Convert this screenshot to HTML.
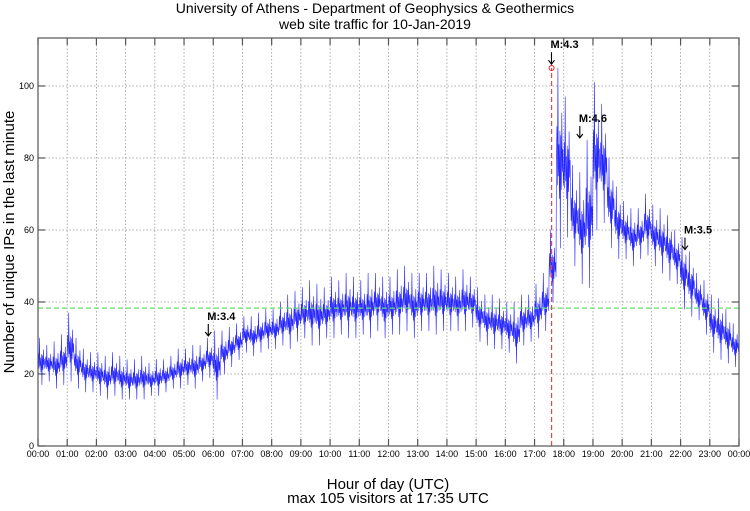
<!DOCTYPE html>
<html><head><meta charset="utf-8"><style>
html,body{margin:0;padding:0;background:#fff;width:750px;height:511px;overflow:hidden}
text{font-family:"Liberation Sans",sans-serif}
</style></head><body>
<svg id="chart" width="750" height="511" viewBox="0 0 750 511" xmlns="http://www.w3.org/2000/svg">
<text x="375" y="13" font-size="14" text-anchor="middle">University of Athens - Department of Geophysics &amp; Geothermics</text>
<text x="375" y="29" font-size="14" text-anchor="middle">web site traffic for 10-Jan-2019</text>
<text transform="translate(14,242) rotate(-90)" font-size="15" text-anchor="middle">Number of unique IPs in the last minute</text>
<text x="388" y="489" font-size="15" text-anchor="middle">Hour of day (UTC)</text>
<text x="388" y="503" font-size="15" text-anchor="middle">max 105 visitors at 17:35 UTC</text>
<g id="grid"></g>
<g id="series"></g>
<g id="overlay"></g>
<rect x="38" y="38" width="701" height="408" fill="none" stroke="#555" stroke-width="1.2"/>
</svg>
<script>
const binLow = [17,18,16,17, 18,16,15,15, 14,13,14,13, 13,13,13,14, 14,15,16,16, 17,16,18,19, 13,20,22,24, 26,25,26,27, 27,28,27,29, 30,28,28,30, 30,31,30,30, 31,30,32,30, 31,31,32,30, 32,32,31,32, 32,32,32,33, 29,28,27,27, 26,23,28,29, 30,32,40,55, 58,50,45,44, 60,62,55,52, 52,50,52,53, 50,48,46,45, 38,36,35,31, 26,24,23,22];
const binHigh = [30,28,29,31, 37,30,27,26, 26,25,26,25, 24,24,25,23, 24,24,25,27, 27,28,28,30, 32,32,33,34, 36,36,37,38, 38,40,42,43, 44,46,45,44, 47,46,48,47, 46,48,48,47, 47,49,50,48, 48,48,50,49, 48,47,49,47, 44,42,42,41, 40,40,42,42, 45,48,60,105, 97,78,76,85, 101,95,80,72, 68,66,66,70, 67,66,64,60, 58,54,48,46, 42,41,38,34];
const yTicks = [0,20,40,60,80,100];
const xTickLabels = ["00:00","01:00","02:00","03:00","04:00","05:00","06:00","07:00","08:00","09:00","10:00","11:00","12:00","13:00","14:00","15:00","16:00","17:00","18:00","19:00","20:00","21:00","22:00","23:00","00:00"];
const averageValue = 38.3;
const maxValue = 105;
const maxHour = 17 + 35/60;
const quakes = [{label:"M:3.4",hour:5.83,value:30},{label:"M:4.3",hour:17.58,value:105.5},{label:"M:4.6",hour:18.55,value:85},{label:"M:3.5",hour:22.15,value:54}];

const NS="http://www.w3.org/2000/svg";
const X0=38,X1=739,Y0=446,PX=3.6;
const xs=h=>X0+h*(X1-X0)/24;
const ys=v=>Y0-v*PX;
function mk(tag,attrs,parent){const e=document.createElementNS(NS,tag);for(const k in attrs)e.setAttribute(k,attrs[k]);parent.appendChild(e);return e;}
const grid=document.getElementById('grid'),series=document.getElementById('series'),ov=document.getElementById('overlay');

xTickLabels.forEach((t,i)=>{
  const x=xs(i);
  if(i>0&&i<24){const g=mk('line',{x1:x,x2:x,y1:38,y2:446,stroke:'#999','stroke-width':0.8,'stroke-dasharray':'1.5,2'},grid);
  
  }
  const a=mk('line',{x1:x,x2:x,y1:446,y2:439,stroke:'#555','stroke-width':1.2},grid);
  
  
  const b=mk('line',{x1:x,x2:x,y1:38,y2:45,stroke:'#555','stroke-width':1.2},grid);
  
  
  const l=mk('text',{x:x,y:457,'font-size':9,'text-anchor':'middle'},grid);l.textContent=t;
  
  
});
yTicks.forEach(v=>{
  const y=ys(v);
  if(v>0){const g=mk('line',{x1:38,x2:739,y1:y,y2:y,stroke:'#999','stroke-width':0.8,'stroke-dasharray':'1.5,2'},grid);
  
  }
  const a=mk('line',{x1:38,x2:45,y1:y,y2:y,stroke:'#555','stroke-width':1.2},grid);
  
  
  const b=mk('line',{x1:732,x2:739,y1:y,y2:y,stroke:'#555','stroke-width':1.2},grid);
  
  
  const l=mk('text',{x:34,y:y+3,'font-size':9,'text-anchor':'end'},grid);l.textContent=v;
  
  
});

// envelope rendering: each 15-min bin drawn as a zigzag between its low and high (most points near the middle)
const jitter=[-0.1,0.35,-0.3,1,-0.2,0.15,-0.45,0.3,-1,0.25,-0.35,0.5,-0.15,0.1,-0.3];
let pts=[];
binLow.forEach((lo,i)=>{
  const hi=binHigh[i],mid=(lo+hi)/2,half=(hi-lo)/2;
  for(let m=0;m<15;m++){pts.push(xs((i*15+m)/60).toFixed(1)+','+ys(mid+half*jitter[m]).toFixed(1));}
});
const line=mk('polyline',{points:pts.join(' '),fill:'none',stroke:'#0000ff','stroke-width':0.6,'stroke-opacity':0.85,'stroke-linejoin':'round'},series);



const avg=mk('line',{x1:38,x2:739,y1:ys(averageValue),y2:ys(averageValue),stroke:'#66dd66','stroke-width':1.2,'stroke-dasharray':'5,3'},ov);


const mx=mk('line',{x1:xs(maxHour),x2:xs(maxHour),y1:446,y2:ys(maxValue),stroke:'#ee4444','stroke-width':1.2,'stroke-dasharray':'5,3'},ov);


const c=mk('circle',{cx:xs(maxHour),cy:ys(maxValue),r:2.5,fill:'none',stroke:'#ee2222','stroke-width':1},ov);


quakes.forEach(q=>{
  const x=xs(q.hour),y=ys(q.value);
  const t=mk('text',{x:x-1,y:y-18,'font-size':11,'font-weight':'bold'},ov);t.textContent=q.label;
  
  
  const a=mk('path',{d:`M${x} ${y-14}V${y-2}M${x-3} ${y-6}L${x} ${y-2}L${x+3} ${y-6}`,fill:'none',stroke:'#000','stroke-width':1.1},ov);
  
  
});
</script>
</body></html>
